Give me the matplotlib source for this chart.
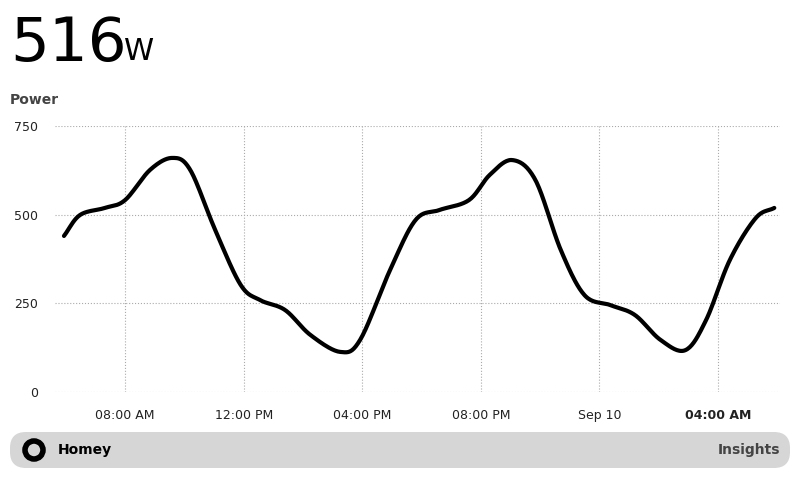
import numpy as np
import matplotlib
matplotlib.use("Agg")
import matplotlib.pyplot as plt
from matplotlib.patches import FancyBboxPatch, Ellipse

hours = [5.94, 6.48, 7.32, 8.0, 8.84, 9.59, 10.2, 11.04, 11.9, 12.56, 13.4, 14.25, 15.26, 15.93,
         16.94, 17.8, 18.6, 19.6, 20.3, 21.06, 21.84, 22.7, 23.5, 24.37, 25.2, 26.06, 26.9,
         27.6, 28.4, 29.27, 29.9]
power = [440, 499, 519, 541, 626, 660, 626, 457, 302, 259, 231, 161, 113, 147,
         344, 485, 513, 541, 612, 654, 598, 400, 273, 245, 217, 147, 118,
         203, 372, 490, 519]
tick_hours = [8, 12, 16, 20, 24, 28]
tick_labels = ["08:00 AM", "12:00 PM", "04:00 PM", "08:00 PM", "Sep 10", "04:00 AM"]
y_ticks = [0, 250, 500, 750]

def smooth(x, y, n=20):
    x = np.asarray(x, float); y = np.asarray(y, float)
    xp = np.concatenate([[2*x[0]-x[1]], x, [2*x[-1]-x[-2]]])
    yp = np.concatenate([[2*y[0]-y[1]], y, [2*y[-1]-y[-2]]])
    xs, ys = [], []
    t = np.linspace(0, 1, n, endpoint=False)
    for i in range(1, len(xp)-2):
        for arr, out in ((xp, xs), (yp, ys)):
            p0, p1, p2, p3 = arr[i-1:i+3]
            out.extend(0.5*((2*p1) + (-p0+p2)*t + (2*p0-5*p1+4*p2-p3)*t**2 + (-p0+3*p1-3*p2+p3)*t**3))
    xs.append(x[-1]); ys.append(y[-1])
    return np.array(xs), np.array(ys)

fig = plt.figure(figsize=(8, 4.8), dpi=100)
ax = fig.add_axes([55/800, 1-392/480, 725/800, 266/480])
sx, sy = smooth(hours, power)
ax.plot(sx, sy, color="black", lw=3, solid_capstyle="round")
ax.set_xlim(8 - 70/29.625, 28 + 62/29.625)
ax.set_ylim(0, 750)
ax.set_xticks(tick_hours)
ax.set_xticklabels(tick_labels)
ax.set_yticks(y_ticks)
ax.grid(True, color="#aaaaaa", ls=":", lw=0.8)
for s in ax.spines.values():
    s.set_visible(False)
ax.tick_params(length=0, labelsize=9, colors="#222222")
ax.tick_params(axis="x", pad=12)
ax.tick_params(axis="y", pad=12)
for lab in ax.get_xticklabels()[-1:]:
    lab.set_fontweight("bold")

fig.text(10/800, 1-45/480, "516", fontsize=44, va="center", family="DejaVu Sans")
fig.text(124/800, 1-52/480, "W", fontsize=22, va="center", family="DejaVu Sans")
fig.text(10/800, 1-100/480, "Power", fontsize=10, va="center", color="#444444", fontweight="bold")

bar = FancyBboxPatch((10/800, 1-468/480), 780/800, 36/480, boxstyle="round,pad=0,rounding_size=0.02",
                     transform=fig.transFigure, facecolor="#d6d6d6", edgecolor="none", mutation_aspect=1.67)
fig.patches.append(bar)
fig.patches.append(Ellipse((34/800, 1-450/480), 18/800, 18/480, transform=fig.transFigure,
                           facecolor="#d6d6d6", edgecolor="black", lw=4))
fig.text(58/800, 1-450/480, "Homey", fontsize=10, va="center", fontweight="bold")
fig.text(780/800, 1-450/480, "Insights", fontsize=10, va="center", ha="right", color="#444444", fontweight="bold")
fig.savefig("out.png", dpi=100)
